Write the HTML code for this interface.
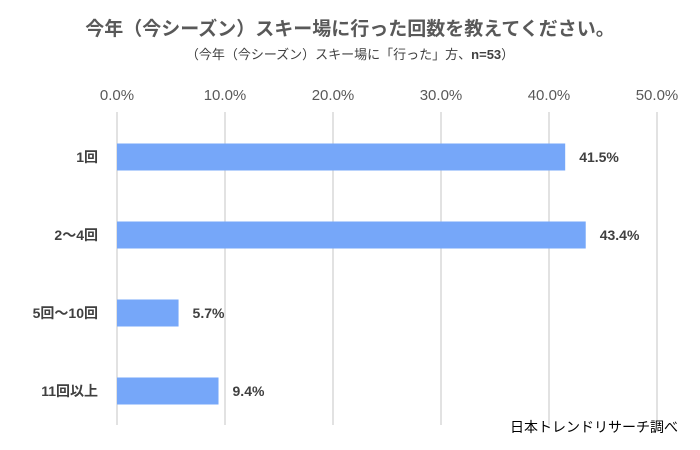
<!DOCTYPE html>
<html><head><meta charset="utf-8"><style>
body{margin:0;background:#fff;}
svg{display:block;font-family:"Liberation Sans","Noto Sans CJK JP",sans-serif;}
</style></head><body>
<svg width="700" height="450">
<rect width="700" height="450" fill="#fff"/>
<text x="350" y="35" text-anchor="middle" font-size="19" font-weight="bold" fill="#595959">今年（今シーズン）スキー場に行った回数を教えてください。</text>
<text x="350" y="59" text-anchor="middle" font-size="13" fill="#404040">（今年（今シーズン）スキー場に「行った」方、<tspan font-weight="bold">n=53</tspan>）</text>
<g id="grid"></g><g id="bars"></g>
<text x="678" y="432" text-anchor="end" font-size="14" fill="#000">日本トレンドリサーチ調べ</text>
</svg>
<script>
const categories=["1回","2〜4回","5回〜10回","11回以上"];
const values=[41.5,43.4,5.7,9.4];
const ticks=[0,10,20,30,40,50];
const tickLabels=["0.0%","10.0%","20.0%","30.0%","40.0%","50.0%"];
const NS="http://www.w3.org/2000/svg";
const x0=117,pxPer=10.8;
const xs=v=>x0+v*pxPer;
const yTop=118,band=78,barH=27;
const ys=i=>yTop+i*band+(band-barH)/2;
function mk(t,a,p){const e=document.createElementNS(NS,t);for(const k in a)e.setAttribute(k,a[k]);p.appendChild(e);return e;}
const g=document.getElementById('grid'),b=document.getElementById('bars');
ticks.forEach((t,i)=>{
 const l=mk('line',{x1:xs(t),x2:xs(t),y1:112,y2:425,stroke:'#d9d9d9','stroke-width':1.5},g);
 
 
 const tx=mk('text',{x:xs(t),y:100,'text-anchor':'middle','font-size':15,fill:'#595959'},g);
 tx.textContent=tickLabels[i];
 
 
});
categories.forEach((c,i)=>{
 const y=ys(i);
 const r=mk('rect',{x:x0,y:y,width:xs(values[i])-x0,height:barH,fill:'#76a7f9'},b);
 
 
 const v=mk('text',{x:xs(values[i])+14,y:y+barH/2+5,'font-size':14,'font-weight':'bold',fill:'#404040'},b);
 v.textContent=values[i].toFixed(1)+'%';
 
 
 const cl=mk('text',{x:98,y:y+barH/2+5,'text-anchor':'end','font-size':14,'font-weight':'bold',fill:'#404040'},b);
 cl.textContent=c;
 
 
});
</script>
</body></html>
